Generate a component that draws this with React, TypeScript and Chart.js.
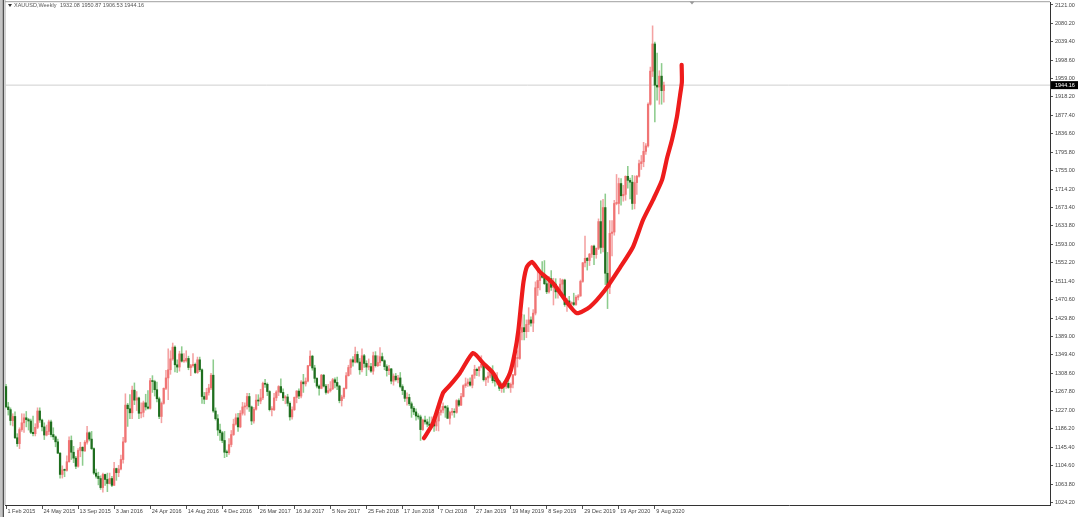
import React, { useEffect, useRef } from "react";
import { Chart, registerables } from "chart.js";

Chart.register(...registerables);

const headerSymbol = "XAUUSD,Weekly";
const headerValues = "1932.08 1950.87 1906.53 1944.16";
const currentPrice = 1944.16;

const dateLabels = [
  "1 Feb 2015", "24 May 2015", "13 Sep 2015", "3 Jan 2016", "24 Apr 2016",
  "14 Aug 2016", "4 Dec 2016", "26 Mar 2017", "16 Jul 2017", "5 Nov 2017",
  "25 Feb 2018", "17 Jun 2018", "7 Oct 2018", "27 Jan 2019", "19 May 2019",
  "8 Sep 2019", "29 Dec 2019", "19 Apr 2020", "9 Aug 2020",
];
const dateLabelWeek = [0, 16, 32, 48, 64, 80, 96, 112, 128, 144, 160, 176, 192, 208, 224, 240, 256, 272, 288];

const priceTicks = [
  2121.0, 2080.2, 2039.4, 1998.6, 1959.0, 1918.2, 1877.4, 1836.6, 1795.8, 1755.0,
  1714.2, 1673.4, 1633.8, 1593.0, 1552.2, 1511.4, 1470.6, 1429.8, 1389.0, 1349.4,
  1308.6, 1267.8, 1227.0, 1186.2, 1145.4, 1104.6, 1063.8, 1024.2,
];

// weekly candles [open, high, low, close]
const weeks2015 = [
  [1279, 1284, 1232, 1234], [1234, 1244, 1216, 1228], [1228, 1232, 1194, 1204], [1204, 1219, 1192, 1213],
  [1213, 1223, 1164, 1166], [1166, 1175, 1147, 1153], [1153, 1188, 1142, 1184], [1184, 1219, 1180, 1199],
  [1199, 1219, 1178, 1210], [1210, 1224, 1190, 1206], [1206, 1209, 1183, 1203], [1203, 1207, 1175, 1178],
  [1178, 1214, 1170, 1175], [1175, 1197, 1170, 1189], [1189, 1232, 1186, 1225], [1225, 1232, 1200, 1205],
  [1205, 1207, 1181, 1190], [1190, 1199, 1162, 1172], [1172, 1194, 1170, 1180], [1180, 1205, 1173, 1201],
  [1201, 1205, 1168, 1173], [1173, 1188, 1162, 1168], [1168, 1170, 1146, 1157], [1157, 1163, 1131, 1132],
  [1132, 1133, 1077, 1085], [1085, 1104, 1077, 1095], [1095, 1097, 1080, 1094], [1094, 1126, 1092, 1113],
  [1113, 1168, 1112, 1160], [1160, 1170, 1118, 1134], [1134, 1147, 1111, 1121], [1121, 1125, 1098, 1103],
  [1103, 1142, 1101, 1138], [1138, 1156, 1124, 1145], [1145, 1146, 1105, 1137], [1137, 1160, 1136, 1156],
  [1156, 1191, 1152, 1177], [1177, 1179, 1159, 1163], [1163, 1180, 1140, 1142], [1142, 1144, 1085, 1088],
  [1088, 1097, 1077, 1081], [1081, 1090, 1062, 1076], [1076, 1082, 1052, 1056], [1056, 1088, 1046, 1085],
  [1085, 1086, 1061, 1074], [1074, 1088, 1047, 1065], [1065, 1088, 1064, 1076], [1076, 1081, 1058, 1061],
];
const weeks2016 = [
  [1061, 1112, 1061, 1098], [1098, 1099, 1072, 1089], [1089, 1105, 1080, 1097], [1097, 1128, 1095, 1118],
  [1118, 1167, 1110, 1157], [1157, 1263, 1155, 1238], [1238, 1242, 1191, 1230], [1230, 1261, 1208, 1221],
  [1221, 1280, 1208, 1271], [1271, 1287, 1239, 1249], [1249, 1268, 1226, 1254], [1254, 1256, 1208, 1220],
  [1220, 1243, 1210, 1222], [1222, 1247, 1212, 1243], [1243, 1262, 1227, 1234], [1234, 1270, 1229, 1231],
  [1231, 1297, 1229, 1292], [1292, 1303, 1266, 1290], [1290, 1293, 1258, 1272], [1272, 1289, 1245, 1252],
  [1252, 1256, 1208, 1213], [1213, 1245, 1199, 1242], [1242, 1276, 1240, 1275], [1275, 1315, 1272, 1298],
  [1298, 1362, 1250, 1316], [1316, 1358, 1306, 1340], [1340, 1375, 1337, 1366], [1366, 1369, 1311, 1327],
  [1327, 1338, 1310, 1322], [1322, 1357, 1313, 1351], [1351, 1367, 1333, 1335], [1335, 1352, 1332, 1336],
  [1336, 1358, 1333, 1341], [1341, 1346, 1316, 1321], [1321, 1328, 1303, 1325], [1325, 1352, 1322, 1328],
  [1328, 1331, 1308, 1310], [1310, 1344, 1308, 1338], [1338, 1344, 1312, 1316], [1316, 1318, 1242, 1257],
  [1257, 1266, 1241, 1251], [1251, 1275, 1250, 1266], [1266, 1284, 1260, 1276], [1276, 1308, 1272, 1304],
  [1304, 1338, 1222, 1225], [1225, 1232, 1205, 1208], [1208, 1217, 1171, 1183], [1183, 1196, 1160, 1177],
  [1177, 1180, 1155, 1160], [1160, 1180, 1122, 1134], [1134, 1139, 1124, 1133], [1133, 1164, 1129, 1151],
];
const weeks2017 = [
  [1151, 1182, 1146, 1173], [1173, 1207, 1171, 1196], [1196, 1219, 1194, 1210], [1210, 1220, 1180, 1190],
  [1190, 1226, 1188, 1220], [1220, 1244, 1216, 1234], [1234, 1243, 1216, 1236], [1236, 1264, 1229, 1257],
  [1257, 1264, 1224, 1234], [1234, 1236, 1195, 1203], [1203, 1233, 1198, 1229], [1229, 1261, 1227, 1249],
  [1249, 1261, 1237, 1247], [1247, 1273, 1241, 1254], [1254, 1289, 1250, 1286], [1286, 1295, 1277, 1284],
  [1284, 1287, 1259, 1268], [1268, 1270, 1225, 1228], [1228, 1235, 1214, 1228], [1228, 1264, 1226, 1254],
  [1254, 1270, 1248, 1267], [1267, 1281, 1259, 1279], [1279, 1296, 1265, 1266], [1266, 1274, 1248, 1254],
  [1254, 1259, 1241, 1256], [1256, 1262, 1236, 1242], [1242, 1245, 1205, 1212], [1212, 1234, 1207, 1228],
  [1228, 1256, 1226, 1255], [1255, 1270, 1243, 1269], [1269, 1274, 1252, 1258], [1258, 1292, 1254, 1289],
  [1289, 1306, 1266, 1285], [1285, 1298, 1280, 1291], [1291, 1326, 1289, 1325], [1325, 1358, 1324, 1346],
  [1346, 1348, 1315, 1320], [1320, 1326, 1288, 1297], [1297, 1299, 1276, 1280], [1280, 1283, 1260, 1275],
  [1275, 1306, 1274, 1304], [1304, 1306, 1278, 1280], [1280, 1284, 1262, 1266], [1266, 1284, 1264, 1270],
  [1270, 1290, 1267, 1274], [1274, 1297, 1272, 1294], [1294, 1298, 1276, 1288], [1288, 1300, 1272, 1280],
  [1280, 1282, 1243, 1248], [1248, 1260, 1236, 1256], [1256, 1276, 1252, 1275], [1275, 1310, 1274, 1303],
];
const weeks2018 = [
  [1303, 1326, 1302, 1321], [1321, 1340, 1306, 1338], [1338, 1345, 1324, 1333], [1333, 1366, 1331, 1350],
  [1350, 1356, 1331, 1333], [1333, 1341, 1306, 1316], [1316, 1362, 1311, 1347], [1347, 1350, 1321, 1330],
  [1330, 1336, 1303, 1322], [1322, 1340, 1316, 1323], [1323, 1330, 1310, 1313], [1313, 1355, 1306, 1347],
  [1347, 1356, 1322, 1325], [1325, 1347, 1323, 1332], [1332, 1365, 1325, 1345], [1345, 1353, 1335, 1336],
  [1336, 1338, 1316, 1323], [1323, 1327, 1302, 1314], [1314, 1326, 1305, 1318], [1318, 1319, 1285, 1291],
  [1291, 1307, 1282, 1302], [1302, 1308, 1291, 1294], [1294, 1304, 1287, 1298], [1298, 1310, 1276, 1279],
  [1279, 1283, 1261, 1270], [1270, 1271, 1246, 1253], [1253, 1265, 1238, 1255], [1255, 1262, 1237, 1241],
  [1241, 1245, 1211, 1231], [1231, 1235, 1217, 1223], [1223, 1230, 1205, 1214], [1214, 1219, 1207, 1212],
  [1212, 1216, 1160, 1184], [1184, 1207, 1182, 1205], [1205, 1214, 1196, 1201], [1201, 1207, 1190, 1196],
  [1196, 1212, 1192, 1193], [1193, 1212, 1191, 1199], [1199, 1203, 1180, 1192], [1192, 1208, 1182, 1203],
  [1203, 1233, 1181, 1222], [1222, 1236, 1216, 1227], [1227, 1243, 1221, 1235], [1235, 1237, 1211, 1232],
  [1232, 1237, 1208, 1209], [1209, 1225, 1196, 1222], [1222, 1231, 1216, 1223], [1223, 1230, 1211, 1222],
  [1222, 1250, 1220, 1248], [1248, 1252, 1235, 1238], [1238, 1264, 1237, 1257], [1257, 1283, 1256, 1281],
];
const weeks2019 = [
  [1281, 1298, 1277, 1285], [1285, 1296, 1279, 1289], [1289, 1298, 1280, 1282], [1282, 1305, 1276, 1304],
  [1304, 1326, 1297, 1317], [1317, 1320, 1303, 1314], [1314, 1323, 1302, 1322], [1322, 1347, 1320, 1328],
  [1328, 1333, 1291, 1294], [1294, 1300, 1281, 1298], [1298, 1311, 1288, 1302], [1302, 1320, 1298, 1313],
  [1313, 1325, 1287, 1292], [1292, 1299, 1280, 1291], [1291, 1310, 1282, 1291], [1291, 1293, 1270, 1275],
  [1275, 1288, 1266, 1286], [1286, 1290, 1266, 1279], [1279, 1288, 1275, 1286], [1286, 1303, 1275, 1277],
  [1277, 1287, 1266, 1284], [1284, 1306, 1276, 1305], [1305, 1348, 1303, 1341], [1341, 1358, 1322, 1341],
  [1341, 1411, 1339, 1399], [1399, 1439, 1382, 1409], [1409, 1437, 1382, 1400], [1400, 1426, 1387, 1416],
  [1416, 1453, 1400, 1426], [1426, 1433, 1412, 1419], [1419, 1449, 1400, 1441], [1441, 1510, 1437, 1497],
  [1497, 1535, 1480, 1513], [1513, 1528, 1492, 1527], [1527, 1555, 1518, 1520], [1520, 1557, 1504, 1506],
  [1506, 1513, 1484, 1488], [1488, 1522, 1485, 1517], [1517, 1535, 1491, 1498], [1498, 1518, 1459, 1505],
  [1505, 1517, 1474, 1488], [1488, 1499, 1474, 1490], [1490, 1517, 1480, 1505], [1505, 1516, 1484, 1514],
  [1514, 1516, 1456, 1460], [1460, 1474, 1445, 1468], [1468, 1478, 1457, 1462], [1462, 1466, 1452, 1464],
  [1464, 1485, 1457, 1460], [1460, 1480, 1458, 1476], [1476, 1482, 1470, 1479], [1479, 1514, 1478, 1511],
];
const weeks2020 = [
  [1511, 1553, 1509, 1552], [1552, 1611, 1543, 1562], [1562, 1564, 1536, 1557], [1557, 1573, 1546, 1571],
  [1571, 1590, 1564, 1589], [1589, 1591, 1548, 1570], [1570, 1585, 1562, 1584], [1584, 1649, 1581, 1643],
  [1643, 1689, 1573, 1586], [1586, 1692, 1576, 1674], [1674, 1704, 1504, 1529], [1529, 1575, 1451, 1498],
  [1498, 1645, 1484, 1617], [1617, 1645, 1567, 1620], [1620, 1690, 1613, 1683], [1683, 1747, 1680, 1683],
  [1683, 1739, 1660, 1727], [1727, 1738, 1679, 1700], [1700, 1723, 1688, 1703], [1703, 1744, 1690, 1743],
  [1743, 1765, 1717, 1734], [1734, 1739, 1693, 1730], [1730, 1745, 1670, 1683], [1683, 1744, 1671, 1729],
  [1729, 1745, 1703, 1743], [1743, 1779, 1741, 1771], [1771, 1789, 1758, 1775], [1775, 1818, 1764, 1798],
  [1798, 1815, 1791, 1810], [1810, 1905, 1807, 1902], [1902, 1984, 1900, 1975], [1975, 2075, 1963, 2035],
  [2035, 2039, 1863, 1944], [1944, 2015, 1911, 1940], [1940, 1976, 1902, 1964], [1964, 1992, 1902, 1932],
  [1932.08, 1950.87, 1906.53, 1944.16],
];

// hand-drawn red trend stroke (week index, price)
const trendWeek = [
  185.5, 189.5, 194.0, 197.1, 201.5, 207.3, 211.7, 216.2, 220.1, 223.7, 225.9, 227.4, 228.7,
  229.7, 231.2, 233.5, 237.0, 242.8, 249.0, 253.4, 259.2, 265.9, 272.5, 278.3, 282.7, 287.2,
  291.2, 293.4, 295.6, 297.8, 299.2, 300.0, 299.9,
];
const trendPrice = [
  1165, 1198, 1265, 1282, 1309, 1353, 1331, 1309, 1278, 1309, 1355, 1402, 1465,
  1510, 1543, 1554, 1532, 1507, 1465, 1441, 1455, 1492, 1541, 1587, 1646, 1691,
  1735, 1783, 1823, 1874, 1922, 1951, 1989,
];

const FONT = '"Liberation Sans", Arial, sans-serif';
const X_MIN = -0.444;
const X_MAX = 463.4;
const Y_MIN = 1017.58;
const Y_MAX = 2127.62;

const UP_BODY = "#f07474";
const UP_WICK = "#f4a2a2";
const DOWN_BODY = "#1f6e1f";
const DOWN_WICK = "#8dcc8d";

export default function App() {
  const ref = useRef<HTMLCanvasElement>(null);

  useEffect(() => {
    if (!ref.current) return;
    const rows = [...weeks2015, ...weeks2016, ...weeks2017, ...weeks2018, ...weeks2019, ...weeks2020];
    const candles = rows.map((r, i) => ({ i, o: r[0], h: r[1], l: r[2], c: r[3] }));
    const isUp = candles.map((k) => k.c >= k.o);

    const framePlugin = {
      id: "frame",
      beforeDraw(chart: any) {
        const { ctx, chartArea } = chart;
        ctx.save();
        ctx.fillStyle = "#ffffff";
        ctx.fillRect(0, 0, chart.width, chart.height);
        ctx.fillStyle = "#c4c4c4";
        ctx.fillRect(0, 0, 2, chart.height);
        ctx.fillStyle = "#505050";
        ctx.fillRect(2.5, 0, 1.5, chart.height);
        ctx.fillStyle = "#a8a8a8";
        ctx.fillRect(4.5, 0, 1, chartArea.bottom);
        ctx.fillStyle = "#a0a0a0";
        ctx.fillRect(chartArea.left, 1.2, chartArea.right - chartArea.left, 1);
        ctx.restore();
      },
      afterDraw(chart: any) {
        const { ctx, chartArea, scales } = chart;
        ctx.save();
        ctx.font = `5.5px ${FONT}`;
        ctx.textBaseline = "middle";
        ctx.fillStyle = "#333";
        ctx.beginPath();
        ctx.moveTo(8, 4);
        ctx.lineTo(12, 4);
        ctx.lineTo(10, 7);
        ctx.closePath();
        ctx.fill();
        ctx.fillStyle = "#555";
        ctx.fillText(headerSymbol, 14, 5.8);
        ctx.fillText(headerValues, 60, 5.8);
        ctx.fillStyle = "#9a9a9a";
        ctx.beginPath();
        ctx.moveTo(689.5, 1.5);
        ctx.lineTo(694.5, 1.5);
        ctx.lineTo(692, 4.5);
        ctx.closePath();
        ctx.fill();
        const py = scales.y.getPixelForValue(currentPrice);
        ctx.fillStyle = "#000";
        ctx.fillRect(chartArea.right + 1, py - 4, 27, 8);
        ctx.fillStyle = "#fff";
        ctx.fillText(currentPrice.toFixed(2), chartArea.right + 5, py + 0.3);
        ctx.restore();
      },
    };

    const chart = new Chart(ref.current, {
      type: "bar",
      data: {
        datasets: [
          {
            type: "line",
            data: [
              { x: X_MIN, y: currentPrice },
              { x: X_MAX, y: currentPrice },
            ],
            borderColor: "#cfcfcf",
            borderWidth: 1,
            pointRadius: 0,
            order: 5,
          } as any,
          {
            type: "bar",
            data: candles.map((k) => ({ x: k.i, y: [k.l, k.h] })),
            backgroundColor: isUp.map((u) => (u ? UP_WICK : DOWN_WICK)),
            barThickness: 0.9,
            grouped: false,
            borderWidth: 0,
            order: 3,
          } as any,
          {
            type: "bar",
            data: candles.map((k) => ({ x: k.i, y: [k.o, k.c] })),
            backgroundColor: isUp.map((u) => (u ? UP_BODY : DOWN_BODY)),
            barThickness: 1.6,
            minBarLength: 1,
            grouped: false,
            borderWidth: 0,
            order: 2,
          } as any,
          {
            type: "line",
            data: trendWeek.map((w, i) => ({ x: w, y: trendPrice[i] })),
            borderColor: "#ee1c1c",
            borderWidth: 4.2,
            tension: 0.2,
            pointRadius: 0,
            borderCapStyle: "round",
            borderJoinStyle: "round",
            order: 0,
          } as any,
        ],
      },
      options: {
        responsive: false,
        animation: false,
        events: [],
        layout: { padding: { left: 5, top: 2, right: 0, bottom: 0 } },
        plugins: { legend: { display: false }, tooltip: { enabled: false } },
        scales: {
          x: {
            type: "linear",
            position: "bottom",
            offset: false,
            min: X_MIN,
            max: X_MAX,
            grid: { offset: false, drawOnChartArea: false, drawTicks: true, tickLength: 4, color: "#555" },
            border: { display: true, color: "#333", width: 1 },
            ticks: {
              autoSkip: false,
              maxRotation: 0,
              align: "start",
              labelOffset: 1.5,
              padding: -1,
              color: "#444",
              font: { family: FONT, size: 5.5 },
              callback: (_v: any, i: number) => dateLabels[i] ?? "",
            },
            afterBuildTicks: (s: any) => {
              s.ticks = dateLabelWeek.map((v) => ({ value: v }));
            },
            afterFit: (s: any) => {
              s.height = 12;
              s.paddingLeft = 0;
              s.paddingRight = 0;
            },
          } as any,
          y: {
            type: "linear",
            position: "right",
            min: Y_MIN,
            max: Y_MAX,
            grid: { drawOnChartArea: false, drawTicks: true, tickLength: 3, color: "#555" },
            border: { display: true, color: "#333", width: 1 },
            ticks: {
              autoSkip: false,
              padding: 2,
              color: "#444",
              font: { family: FONT, size: 5.5 },
              callback: (v: any) => Number(v).toFixed(2),
            },
            afterBuildTicks: (s: any) => {
              s.ticks = priceTicks.map((v) => ({ value: v }));
            },
            afterFit: (s: any) => {
              s.width = 30;
              s.paddingTop = 0;
              s.paddingBottom = 0;
            },
          } as any,
        },
      },
      plugins: [framePlugin],
    });

    return () => chart.destroy();
  }, []);

  return (
    <div style={{ position: "fixed", left: 0, top: 0, width: 1080, height: 517, background: "#fff" }}>
      <canvas ref={ref} width={1080} height={517} style={{ width: 1080, height: 517, display: "block" }} />
    </div>
  );
}
